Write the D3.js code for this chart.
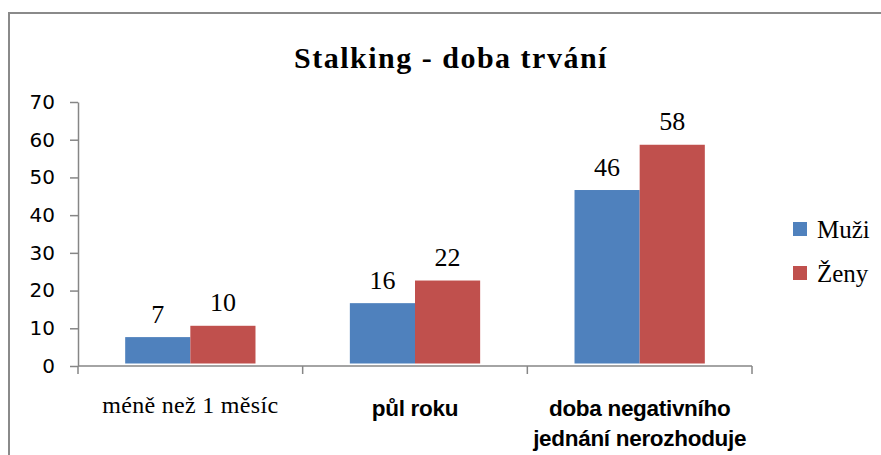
<!DOCTYPE html>
<html>
<head>
<meta charset="utf-8">
<script src="https://cdn.jsdelivr.net/npm/d3@7/dist/d3.min.js"></script>
<style>
  body { margin: 0; background: #fff; }
  svg { display: block; }
</style>
</head>
<body>
<div id="chart"></div>
<script>
// chart data
const categories = ['méně než 1 měsíc', 'půl roku', 'doba negativního jednání nerozhoduje'];
const categoryLines = [['méně než 1 měsíc'], ['půl roku'], ['doba negativního', 'jednání nerozhoduje']];
const series = ['Muži', 'Ženy'];
const muzi = [7, 16, 46];
const zeny = [10, 22, 58];
const yTicks = [0, 10, 20, 30, 40, 50, 60, 70];
const colors = ['#4f81bd', '#c0504d'];

const width = 881, height = 455;
const svg = d3.select('#chart').append('svg')
    .attr('width', width)
    .attr('height', height);

// outer frame (cut off on the right and bottom)
svg.append('rect')
    .attr('x', 9)
    .attr('y', 13)
    .attr('width', 900)
    .attr('height', 500)
    .style('fill', 'none')
    .style('stroke', '#8a8a8a')
    .style('stroke-width', 2);

// title
svg.append('text')
    .attr('x', 451)
    .attr('y', 68)
    .attr('text-anchor', 'middle')
    .style('font-family', '"Liberation Serif", "Times New Roman", serif')
    .style('font-weight', 'bold')
    .style('font-size', '30px')
    .style('letter-spacing', '1.5px')
    .text('Stalking - doba trvání');

const x0 = d3.scaleBand().domain(categories).range([78, 752]);
const x1 = d3.scaleBand().domain(series)
    .range([x0.bandwidth() * 0.21, x0.bandwidth() * 0.79]);
const y = d3.scaleLinear().domain([0, 70]).range([366, 102]);

const rows = categories.map((c, i) => ({ cat: c, values: [muzi[i], zeny[i]] }));

// y axis
const yAxis = svg.append('g')
    .attr('transform', 'translate(78,0)')
    .call(d3.axisLeft(y).tickValues(yTicks).tickSize(8).tickPadding(15).tickSizeOuter(0));
yAxis.select('.domain').style('stroke', '#868686').style('stroke-width', 1.5);
yAxis.selectAll('.tick line').style('stroke', '#868686').style('stroke-width', 1.5);
yAxis.selectAll('.tick text')
    .style('font-family', '"DejaVu Sans", Verdana, sans-serif')
    .style('font-size', '20px')
    .style('fill', '#000');

// bars (drawn slightly above the axis line, as in the source)
const groups = svg.append('g')
    .attr('transform', 'translate(0,-2.5)')
    .selectAll('g')
    .data(rows)
    .enter().append('g')
    .attr('transform', d => `translate(${x0(d.cat)},0)`);

groups.selectAll('rect')
    .data(d => d.values.map((v, j) => ({ s: series[j], v: v, j: j })))
    .enter().append('rect')
    .attr('x', d => x1(d.s))
    .attr('y', d => y(d.v))
    .attr('width', x1.bandwidth())
    .attr('height', d => y(0) - y(d.v))
    .style('fill', d => colors[d.j]);

groups.selectAll('text')
    .data(d => d.values.map((v, j) => ({ s: series[j], v: v })))
    .enter().append('text')
    .attr('x', d => x1(d.s) + x1.bandwidth() / 2)
    .attr('y', d => y(d.v) - 14.5)
    .attr('text-anchor', 'middle')
    .style('font-family', '"Liberation Serif", "Times New Roman", serif')
    .style('font-size', '26px')
    .text(d => d.v);

// x axis
const xAxis = svg.append('g');
xAxis.append('line')
    .attr('x1', x0.range()[0])
    .attr('x2', x0.range()[1])
    .attr('y1', y(0))
    .attr('y2', y(0))
    .style('stroke', '#868686')
    .style('stroke-width', 1.5);

const bounds = categories.map(c => x0(c)).concat([x0.range()[1]]);
xAxis.selectAll('line.tick')
    .data(bounds)
    .enter().append('line')
    .attr('class', 'tick')
    .attr('x1', d => d)
    .attr('x2', d => d)
    .attr('y1', y(0))
    .attr('y2', y(0) + 8)
    .style('stroke', '#868686')
    .style('stroke-width', 1.5);

const xLabels = xAxis.selectAll('text')
    .data(categories)
    .enter().append('text')
    .attr('x', d => x0(d) + x0.bandwidth() / 2)
    .attr('y', (d, i) => i === 0 ? 413 : 415.5)
    .attr('text-anchor', 'middle')
    .style('font-family', (d, i) => i === 0
        ? '"Liberation Serif", "Times New Roman", serif'
        : '"Liberation Sans", Arial, sans-serif')
    .style('font-weight', (d, i) => i === 0 ? 'normal' : 'bold')
    .style('font-size', (d, i) => i === 0 ? '24px' : '22.5px')
    .style('letter-spacing', (d, i) => i === 0 ? '0.3px' : '-0.3px');

xLabels.selectAll('tspan')
    .data((d, i) => categoryLines[i])
    .enter().append('tspan')
    .attr('x', function() { return this.parentNode.getAttribute('x'); })
    .attr('dy', (d, k) => k === 0 ? 0 : 30)
    .text(d => d);

// legend
const legend = svg.append('g')
    .selectAll('g')
    .data(series)
    .enter().append('g')
    .attr('transform', (d, i) => `translate(793,${222 + i * 44})`);

legend.append('rect')
    .attr('width', 14)
    .attr('height', 14)
    .style('fill', (d, i) => colors[i]);

legend.append('text')
    .attr('x', 24)
    .attr('y', 16)
    .style('font-family', '"Liberation Serif", "Times New Roman", serif')
    .style('font-size', '25px')
    .text(d => d);
</script>
</body>
</html>
